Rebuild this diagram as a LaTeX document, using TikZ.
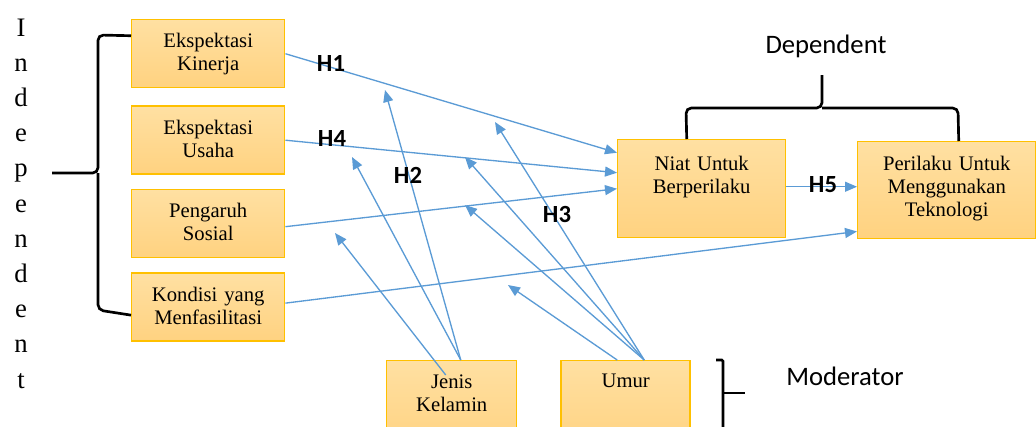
\documentclass[tikz,border=0pt]{standalone}
\usepackage{fontspec}
\setmainfont{Liberation Serif}
\newfontfamily\calibri{Carlito}
\usepackage{tikz}
\definecolor{myblue}{RGB}{91,155,213}
\definecolor{myorange}{RGB}{255,192,0}
\definecolor{mytop}{RGB}{255,224,162}
\definecolor{mybottom}{RGB}{255,210,128}
\usetikzlibrary{arrows.meta,positioning}

\begin{document}
\begin{tikzpicture}[x=0.75pt,y=-0.75pt,
    varbox/.style n args={3}{draw=myorange,line width=1.1pt,top color=mytop,bottom color=mybottom,
      inner sep=0pt,text width=#1,text height=#2,text depth=#3,align=center,
      font=\fontsize{15.5}{17.25}\selectfont},
    arr/.style={draw=myblue,line width=1pt,-{Triangle[length=9pt,width=7.5pt]}},
    brace/.style={draw=black,line width=2pt,rounded corners=4pt},
    hlabel/.style={inner sep=0pt,font=\calibri\bfseries\fontsize{18.5}{20}\selectfont},
    side/.style={inner sep=0pt,font=\calibri\fontsize{20}{22}\selectfont},
    vletter/.style={anchor=base,inner sep=0pt,font=\fontsize{20}{22}\selectfont}
    ]
    \useasboundingbox (0,0) rectangle (1036,426);
    \clip (0,0) rectangle (1036,426);

    \node[varbox={114.75pt}{21pt}{30pt},anchor=north west] (ek) at (131,19) {Ekspektasi\\Kinerja};
    \node[varbox={114.75pt}{21pt}{30pt},below=12.75pt of ek] (eu) {Ekspektasi\\Usaha};
    \node[varbox={114.75pt}{21pt}{30pt},below=10.5pt of eu] (ps) {Pengaruh\\Sosial};
    \node[varbox={114.75pt}{21pt}{30pt},below=10.5pt of ps] (kf) {Kondisi yang\\Menfasilitasi};
    \node[varbox={126pt}{23.25pt}{50.25pt},anchor=north west] (niat) at (617,139) {Niat Untuk\\Berperilaku};
    \node[varbox={133.5pt}{21.75pt}{51pt},anchor=north west] (peri) at (857,141) {Perilaku Untuk\\Menggunakan\\Teknologi};
    \node[varbox={97.5pt}{21pt}{46.5pt},anchor=north west] (jk) at (386,360) {Jenis\\Kelamin};
    \node[varbox={96.75pt}{20.25pt}{47.25pt},right=32.25pt of jk] (um) {Umur};

    \foreach \c [count=\i from 0] in {I,n,d,e,p,e,n,d,e,n,t}
      \node[vletter] (ind\i) at (21,{36+35.2*\i}) {\c};

    \coordinate (mod1) at (385,90);
    \coordinate (mod2) at (352,157);
    \coordinate (mod3) at (335,233);
    \coordinate (mod4) at (495,122);
    \coordinate (mod5) at (465,157);
    \coordinate (mod6) at (465,205);
    \coordinate (mod7) at (508,285);

    % the edges
    \draw[arr] (ek.east) -- ([yshift=27pt]niat.west);
    \draw[arr] (eu.east) -- ([yshift=12pt]niat.west);
    \draw[arr] ([yshift=-2.25pt]ps.east) -- (niat.west);
    \draw[arr] ([yshift=3pt]kf.east) -- ([yshift=6pt]peri.south west);
    \draw[arr] ([yshift=1.5pt]niat.east) -- ([yshift=1.5pt]niat.east -| peri.west);

    % moderator edges
    \draw[arr] ([xshift=6.75pt]jk.north) -- (mod1);
    \draw[arr] ([xshift=6.75pt]jk.north) -- (mod2);
    \draw[arr] ([xshift=-4.5pt,yshift=-11.25pt]jk.north) -- (mod3);
    \draw[arr] ([xshift=13.9pt]um.north) -- (mod4);
    \draw[arr] ([xshift=13.9pt]um.north) -- (mod5);
    \draw[arr] ([xshift=13.9pt]um.north) -- (mod6);
    \draw[arr] ([xshift=-6.4pt]um.north) -- (mod7);

    % braces
    \draw[brace] ([yshift=13.5pt]ek.west) -- (98,35) -- (98,173) -- (52,173);
    \draw[brace] ([yshift=-6pt]kf.west) -- (98,310) -- (98,173);
    \draw[brace] ([xshift=-11.25pt]niat.north) -- (686,108) -- (822,108) -- (822,75);
    \draw[brace] ([xshift=9pt]peri.north) -- (958,108) -- (822,108);
    \draw[brace,rounded corners=1pt] (716,360) -- (723,360) -- (723,440);
    \draw[brace] (723,393) -- (745,393);

    \node[hlabel] (h1) at (331,63) {H1};
    \node[hlabel] (h4) at (332,138) {H4};
    \node[hlabel] (h2) at (408,175) {H2};
    \node[hlabel] (h3) at (557,214) {H3};
    \node[hlabel] (h5) at (823,185) {H5};
    \node[side] (dep) at (826,46) {Dependent};
    \node[side] (mod) at (845,376) {Moderator};
\end{tikzpicture}
\end{document}
